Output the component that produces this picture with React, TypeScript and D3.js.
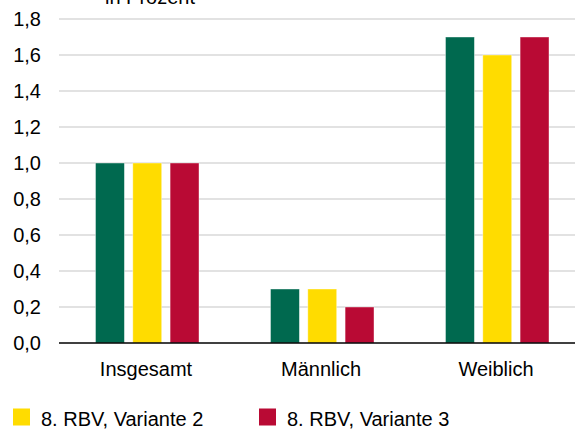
import React from 'react'
import * as d3 from 'd3'

const CATEGORIES = ['Insgesamt', 'Männlich', 'Weiblich']
const SERIES = ['8. RBV, Variante 1', '8. RBV, Variante 2', '8. RBV, Variante 3']
const COLORS = ['#00694f', '#ffdc00', '#b90a34']
const VALUES = [
  [1.0, 0.3, 1.7],
  [1.0, 0.3, 1.6],
  [1.0, 0.2, 1.7]
]
const Y_TICKS = [0, 0.2, 0.4, 0.6, 0.8, 1.0, 1.2, 1.4, 1.6, 1.8]

const W = 575
const H = 430
const FONT = '"Liberation Sans", Arial, sans-serif'

export default function App() {
  const x0 = d3.scaleBand().domain(CATEGORIES).range([59.5, 584.5]).padding(0)
  const x1 = d3.scaleBand()
    .domain(SERIES)
    .range([36, 139.5])
    .paddingInner(0.225)
    .paddingOuter(0)
  const y = d3.scaleLinear().domain([0, 1.8]).range([343, 19])
  const fmt = (v: number) => v.toFixed(1).replace('.', ',')

  return (
    <div style={{ position: 'fixed', left: 0, top: 0 }}>
      <svg width={W} height={H} style={{ display: 'block', background: '#fff' }} fontFamily={FONT}>
        <text x={105} y={4} fontSize={20} fill="#000">in Prozent</text>

        {Y_TICKS.filter(t => t > 0).map(t => (
          <line key={t} x1={59} x2={W} y1={y(t)} y2={y(t)} stroke="#d9d9d9" strokeWidth={1.5} />
        ))}
        {Y_TICKS.map(t => (
          <text key={t} x={41} y={y(t) + 6.8} fontSize={20} textAnchor="end" fill="#000">{fmt(t)}</text>
        ))}

        {CATEGORIES.map((c, ci) => (
          <g key={c} transform={`translate(${x0(c)},0)`}>
            {SERIES.map((s, si) => (
              <rect
                key={s}
                x={x1(s)}
                y={y(VALUES[si][ci])}
                width={x1.bandwidth()}
                height={y(0) - y(VALUES[si][ci])}
                fill={COLORS[si]}
                stroke="#ffffff"
                strokeOpacity={0.5}
                strokeWidth={0.8}
              />
            ))}
          </g>
        ))}

        <line x1={59} x2={W} y1={y(0)} y2={y(0)} stroke="#000" strokeWidth={1.6} />

        {CATEGORIES.map(c => (
          <text key={c} x={(x0(c) as number) + x0.bandwidth() / 2 - 1} y={375.7} fontSize={20} textAnchor="middle" fill="#000">{c}</text>
        ))}

        {[1, 2].map((si, i) => {
          const lx = [13, 259][i]
          return (
            <g key={si}>
              <rect x={lx} y={408.5} width={17} height={17} fill={COLORS[si]} />
              <text x={lx + 28} y={425.7} fontSize={20} fill="#000">{SERIES[si].replace('1', '1')}</text>
            </g>
          )
        })}
      </svg>
    </div>
  )
}
